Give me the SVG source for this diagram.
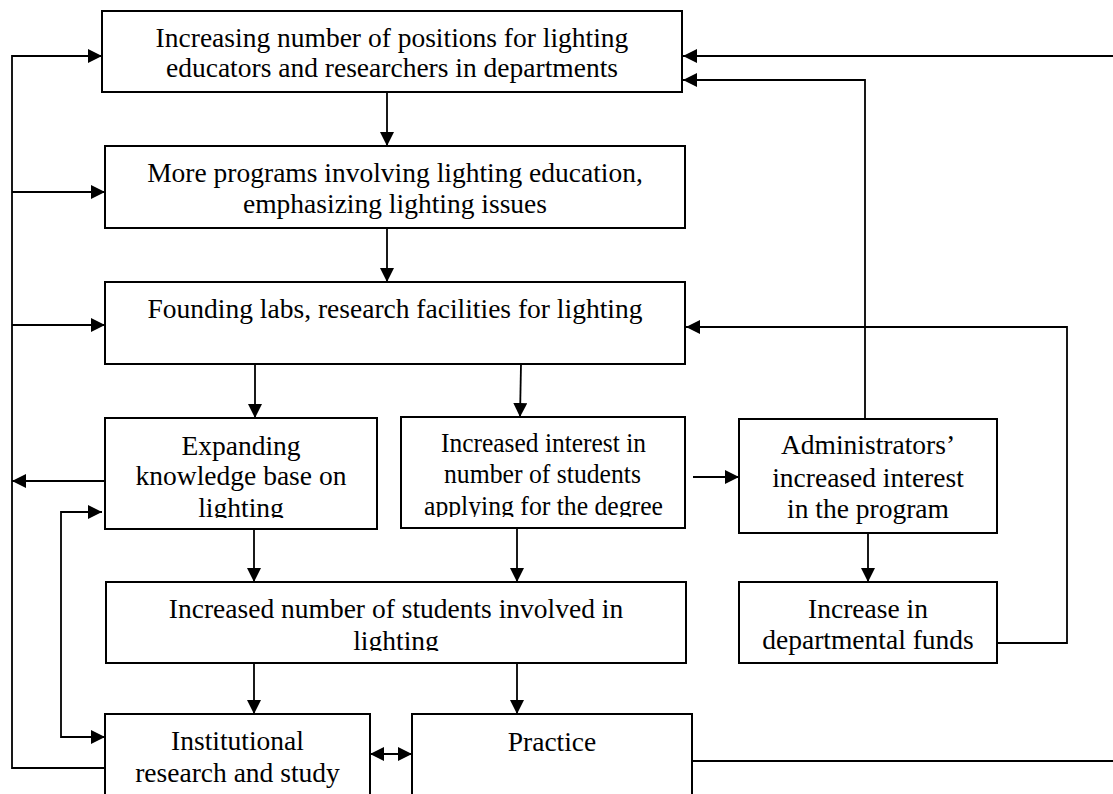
<svg xmlns="http://www.w3.org/2000/svg" width="1113" height="794" viewBox="0 0 1113 794">
<style>
.box{fill:#fff;stroke:#000;stroke-width:2}
.t{font-family:"Liberation Serif","Times New Roman",serif;font-size:27.5px;fill:#000;text-anchor:middle}
.ts{font-family:"Liberation Serif","Times New Roman",serif;font-size:27.5px;fill:#000}
.c{fill:none;stroke:#000;stroke-width:1.8}
.a{marker-end:url(#ah)}
.d{marker-start:url(#ah);marker-end:url(#ah)}
</style>
<defs>
<marker id="ah" markerUnits="userSpaceOnUse" markerWidth="14" markerHeight="14" viewBox="0 0 14 14" refX="14" refY="7" orient="auto-start-reverse">
<path d="M0,0 L14,7 L0,14 Z" fill="#000"/>
</marker>
<clipPath id="clip4"><rect x="105" y="418" width="272" height="100"/></clipPath>
<clipPath id="clip5"><rect x="401" y="417" width="284" height="100"/></clipPath>
<clipPath id="clip7"><rect x="106" y="582" width="580" height="69"/></clipPath>
</defs>
<rect width="1113" height="794" fill="#fff"/>
<g id="connectors">
<path class="c a" d="M387,92 V146"/>
<path class="c a" d="M387,228 V282"/>
<path class="c a" d="M255,364 V418"/>
<path class="c a" d="M521,364 L520,417"/>
<path class="c a" d="M254,529 V582"/>
<path class="c a" d="M517,528 V582"/>
<path class="c a" d="M254,663 V714"/>
<path class="c a" d="M517,663 V714"/>
<path class="c a" d="M693,477 H739"/>
<path class="c a" d="M868,533 V582"/>
<path class="c a" d="M865,419 V80 H683"/>
<path class="c a" d="M1113,56 H683"/>
<path class="c a" d="M997,643 H1067 V327 H686"/>
<path class="c" d="M692,761 H1113"/>
<path class="c a" d="M105,768 H12 V56 H102"/>
<path class="c a" d="M12,192 H105"/>
<path class="c a" d="M12,325 H105"/>
<path class="c a" d="M105,481 H12"/>
<path class="c d" d="M102,512 H61 V737 H105"/>
<path class="c d" d="M370,754 H412"/>
</g>
<g id="n1">
<rect class="box" x="102" y="11" width="580" height="81"/>
<text class="t" x="392" y="47">Increasing number of positions for lighting</text>
<text class="t" x="392" y="77">educators and researchers in departments</text>
</g>
<g id="n2">
<rect class="box" x="105" y="146" width="580" height="82"/>
<text class="t" x="395" y="182">More programs involving lighting education,</text>
<text class="t" x="395" y="213">emphasizing lighting issues</text>
</g>
<g id="n3">
<rect class="box" x="105" y="282" width="580" height="82"/>
<text class="t" x="395" y="318">Founding labs, research facilities for lighting</text>
</g>
<g id="n4">
<rect class="box" x="105" y="418" width="272" height="111"/>
<g clip-path="url(#clip4)">
<text class="t" x="241" y="455">Expanding</text>
<text class="t" x="241" y="485">knowledge base on</text>
<text class="t" x="241" y="517">lighting</text>
</g>
</g>
<g id="n5">
<rect class="box" x="401" y="417" width="284" height="111"/>
<g clip-path="url(#clip5)">
<text class="ts" x="441" y="452" textLength="205" lengthAdjust="spacingAndGlyphs">Increased interest in</text>
<text class="ts" x="444" y="483" textLength="197" lengthAdjust="spacingAndGlyphs">number of students</text>
<text class="ts" x="424" y="515" textLength="239" lengthAdjust="spacingAndGlyphs">applying for the degree</text>
</g>
</g>
<g id="n6">
<rect class="box" x="739" y="419" width="258" height="114"/>
<text class="t" x="868" y="454">Administrators’</text>
<text class="t" x="868" y="487">increased interest</text>
<text class="t" x="868" y="518">in the program</text>
</g>
<g id="n7">
<rect class="box" x="106" y="582" width="580" height="81"/>
<g clip-path="url(#clip7)">
<text class="t" x="396" y="618">Increased number of students involved in</text>
<text class="t" x="396" y="650">lighting</text>
</g>
</g>
<g id="n8">
<rect class="box" x="739" y="582" width="258" height="81"/>
<text class="t" x="868" y="618">Increase in</text>
<text class="t" x="868" y="649">departmental funds</text>
</g>
<g id="n9">
<rect class="box" x="105" y="714" width="265" height="100"/>
<text class="t" x="237.5" y="750">Institutional</text>
<text class="t" x="237.5" y="782">research and study</text>
</g>
<g id="n10">
<rect class="box" x="412" y="714" width="280" height="100"/>
<text class="t" x="552" y="751">Practice</text>
</g>
</svg>
